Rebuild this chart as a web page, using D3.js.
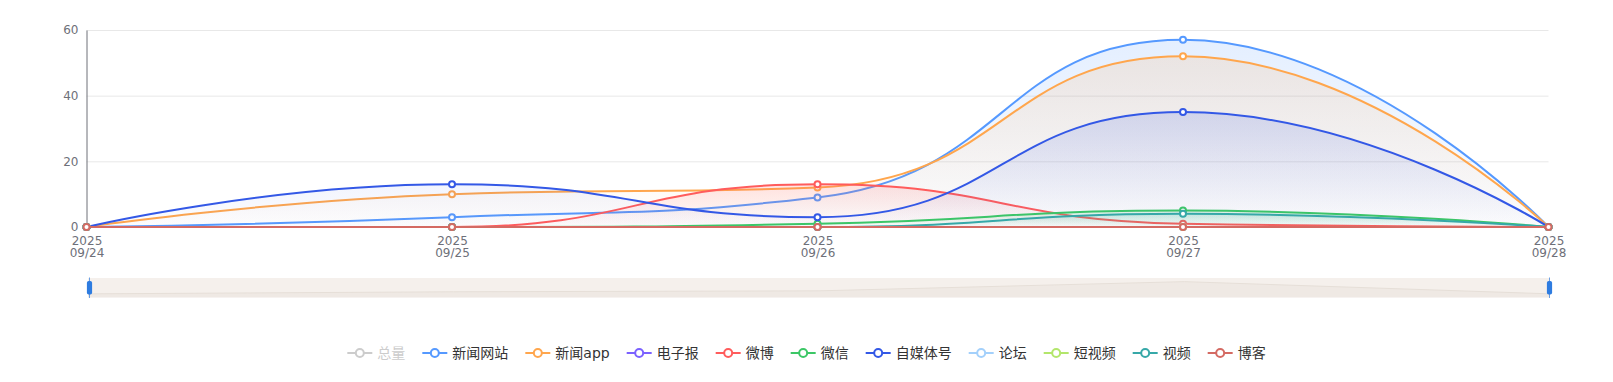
<!DOCTYPE html>
<html><head><meta charset="utf-8">
<script src="https://cdn.jsdelivr.net/npm/d3@7"></script>
<style>
body{margin:0;background:#fff;}
svg{display:block;font-family:"DejaVu Sans","Noto Sans CJK SC",sans-serif;}
</style>
</head><body>
<svg id="chart" width="1613" height="382"></svg>
<script>
// ---------- data ----------
const categories = ["2025-09-24","2025-09-25","2025-09-26","2025-09-27","2025-09-28"];
const seriesNames = ["总量","新闻网站","新闻app","电子报","微博","微信","自媒体号","论坛","短视频","视频","博客"];
const seriesColors = ["#cccccc","#5599ff","#ffa64d","#7b61ff","#ff5c5c","#3cc766","#3358e6","#a3d0fb","#b3e66b","#36a8a8","#d46a63"];
const total      = [0, 26, 38, 154, 0];
const newsSite   = [0, 3, 9, 57, 0];
const newsApp    = [0, 10, 12, 52, 0];
const ePaper     = [0, 0, 0, 0, 0];
const weibo      = [0, 0, 13, 1, 0];
const wechat     = [0, 0, 1, 5, 0];
const selfMedia  = [0, 13, 3, 35, 0];
const forum      = [0, 0, 0, 0, 0];
const shortVideo = [0, 0, 0, 0, 0];
const video      = [0, 0, 0, 4, 0];
const blog       = [0, 0, 0, 0, 0];
const yTicks = [0, 20, 40, 60];
const hiddenSeries = ["总量"];

const seriesValues = [total, newsSite, newsApp, ePaper, weibo, wechat, selfMedia, forum, shortVideo, video, blog];

// ---------- ECharts-like smooth curve for d3 ----------
function ECSmooth(context){ this._context = context; this._smooth = 0.5; }
ECSmooth.prototype = {
  areaStart(){ this._line = 0; },
  areaEnd(){ this._line = NaN; },
  lineStart(){ this._pts = []; },
  point(x, y){ this._pts.push([+x, +y]); },
  lineEnd(){
    const p = this._pts, ctx = this._context, s = this._smooth, n = p.length;
    if (n) {
      if (this._line) ctx.lineTo(p[0][0], p[0][1]); else ctx.moveTo(p[0][0], p[0][1]);
      let cpx0 = p[0][0], cpy0 = p[0][1], prevX = p[0][0], prevY = p[0][1];
      for (let k = 1; k < n; k++) {
        const X = p[k][0], Y = p[k][1];
        const ddx = X - prevX, ddy = Y - prevY;
        if (ddx*ddx + ddy*ddy < 0.5) continue;
        let cpx1, cpy1, ncx = X, ncy = Y;
        if (k + 1 >= n) { cpx1 = X; cpy1 = Y; }
        else {
          const nx = p[k+1][0], ny = p[k+1][1];
          let vx = nx - prevX, vy = ny - prevY;
          const lp = Math.hypot(X - prevX, Y - prevY), ln = Math.hypot(nx - X, ny - Y);
          const r = ln / (ln + lp);
          ncx = X + vx * s * r; ncy = Y + vy * s * r;
          ncx = Math.max(Math.min(ncx, Math.max(nx, X)), Math.min(nx, X));
          ncy = Math.max(Math.min(ncy, Math.max(ny, Y)), Math.min(ny, Y));
          vx = ncx - X; vy = ncy - Y;
          cpx1 = X - vx * lp / ln; cpy1 = Y - vy * lp / ln;
          cpx1 = Math.max(Math.min(cpx1, Math.max(prevX, X)), Math.min(prevX, X));
          cpy1 = Math.max(Math.min(cpy1, Math.max(prevY, Y)), Math.min(prevY, Y));
          vx = X - cpx1; vy = Y - cpy1;
          ncx = X + vx * ln / lp; ncy = Y + vy * ln / lp;
        }
        ctx.bezierCurveTo(cpx0, cpy0, cpx1, cpy1, X, Y);
        cpx0 = ncx; cpy0 = ncy; prevX = X; prevY = Y;
      }
    }
    if (this._line || (this._line !== 0 && n === 1)) ctx.closePath();
    this._line = 1 - this._line;
  }
};
const curveEC = ctx => new ECSmooth(ctx);

// ---------- layout ----------
const svg = d3.select("#chart");
const plot = {left: 86.5, right: 1548.5, top: 30, bottom: 227};
const x = d3.scalePoint().domain(categories).range([plot.left, plot.right]);
const y = d3.scaleLinear().domain([0, 60]).range([plot.bottom, plot.top]);
const axisColor = "#6e7079";
const fontFam = '"DejaVu Sans","Noto Sans CJK SC",sans-serif';

const defs = svg.append("defs");
seriesColors.forEach((c, i) => {
  const g = defs.append("linearGradient").attr("id", "grad" + i)
    .attr("x1", 0).attr("y1", 0).attr("x2", 0).attr("y2", 1);
  g.append("stop").attr("offset", 0).attr("stop-color", c).attr("stop-opacity", 0.16);
  g.append("stop").attr("offset", 1).attr("stop-color", c).attr("stop-opacity", 0.01);
});

// grid lines
svg.append("g").attr("transform", `translate(${plot.left},0)`)
  .call(d3.axisLeft(y).tickValues(yTicks).tickSize(-(plot.right - plot.left)).tickFormat(""))
  .call(g => { g.select(".domain").remove(); g.selectAll("line").attr("stroke", "#e8e8e8"); });

// y axis
svg.append("g").attr("transform", `translate(${plot.left},0)`)
  .call(d3.axisLeft(y).tickValues(yTicks).tickSize(0).tickPadding(8))
  .call(g => {
    g.select(".domain").attr("stroke", axisColor).attr("stroke-width", 1);
    g.selectAll("text").attr("fill", axisColor).attr("font-size", 12).attr("font-family", fontFam);
  });

// x axis
svg.append("g").attr("transform", `translate(0,${plot.bottom})`)
  .call(d3.axisBottom(x).tickSize(0).tickFormat(""))
  .call(g => {
    g.select(".domain").attr("stroke", axisColor).attr("stroke-width", 1);
    g.selectAll(".tick").each(function(d){
      const parts = d.split("-");
      const t = d3.select(this).append("text").attr("fill", axisColor).attr("font-size", 12)
        .attr("font-family", fontFam).attr("text-anchor", "middle");
      t.append("tspan").attr("x", 0).attr("y", 17.5).text(parts[0]);
      t.append("tspan").attr("x", 0).attr("y", 30).text(parts[1] + "/" + parts[2]);
    });
  });

// series
const line = d3.line().x((d, i) => x(categories[i])).y(d => y(d)).curve(curveEC);
const area = d3.area().x((d, i) => x(categories[i])).y0(y(0)).y1(d => y(d)).curve(curveEC);
const plotG = svg.append("g");
seriesNames.forEach((name, si) => {
  if (hiddenSeries.includes(name)) return;
  const vals = seriesValues[si], col = seriesColors[si];
  const g = plotG.append("g");
  if (d3.max(vals) > 0)
    g.append("path").attr("d", area(vals)).attr("fill", `url(#grad${si})`);
  g.append("path").attr("d", line(vals)).attr("fill", "none").attr("stroke", col)
    .attr("stroke-width", 2).attr("stroke-linejoin", "round");
  g.selectAll("circle").data(vals).join("circle")
    .attr("cx", (d, i) => x(categories[i])).attr("cy", d => y(d)).attr("r", 3)
    .attr("fill", "#fff").attr("stroke", col).attr("stroke-width", 2);
});

// data zoom slider
const dz = {left: 88, right: 1550, top: 278, bottom: 297.5};
svg.append("rect").attr("x", dz.left).attr("y", dz.top).attr("width", dz.right - dz.left)
  .attr("height", dz.bottom - dz.top).attr("fill", "#f5f0ec");
const sx = d3.scalePoint().domain(categories).range([dz.left, dz.right]);
const tExt = d3.extent(total), off = (tExt[1] - tExt[0]) * 0.3;
const sy = d3.scaleLinear().domain([tExt[0] - off, tExt[1] + off]).range([dz.bottom, dz.top]);
svg.append("path")
  .attr("d", d3.area().x((d, i) => sx(categories[i])).y0(dz.bottom).y1(d => sy(d))(total))
  .attr("fill", "rgba(205,195,185,0.15)");
svg.append("path")
  .attr("d", d3.line().x((d, i) => sx(categories[i])).y(d => sy(d))(total))
  .attr("fill", "none").attr("stroke", "#e6dfd8").attr("stroke-width", 1);
[dz.left + 1.5, dz.right - 0.5].forEach(hx => {
  svg.append("line").attr("x1", hx).attr("x2", hx).attr("y1", dz.top - 0.5).attr("y2", dz.bottom + 0.5)
    .attr("stroke", "#2e7ce0").attr("stroke-width", 1).attr("opacity", 0.7);
  svg.append("rect").attr("x", hx - 2.6).attr("y", 281).attr("width", 5.2).attr("height", 13.5)
    .attr("rx", 1.8).attr("fill", "#2e7ce0");
});

// legend
const legendY = 353, itemGap = 17, iconW = 25, textGap = 5;
const legend = svg.append("g");
const items = seriesNames.map((name, i) => {
  const g = legend.append("g");
  const hidden = hiddenSeries.includes(name);
  const col = hidden ? "#cccccc" : seriesColors[i];
  g.append("line").attr("x1", 0).attr("x2", iconW).attr("y1", legendY).attr("y2", legendY)
    .attr("stroke", col).attr("stroke-width", 2);
  g.append("circle").attr("cx", iconW / 2).attr("cy", legendY).attr("r", 4)
    .attr("fill", "#fff").attr("stroke", col).attr("stroke-width", 2);
  const t = g.append("text").attr("x", iconW + textGap).attr("y", legendY).attr("dy", "0.35em")
    .attr("font-size", 14).attr("font-family", fontFam)
    .attr("fill", hidden ? "#cccccc" : "#333").text(name);
  return {g, w: iconW + textGap + t.node().getComputedTextLength()};
});
const totalW = d3.sum(items, d => d.w) + itemGap * (items.length - 1);
let cx = (1613 - totalW) / 2;
items.forEach(it => { it.g.attr("transform", `translate(${cx},0)`); cx += it.w + itemGap; });
</script>
</body></html>
